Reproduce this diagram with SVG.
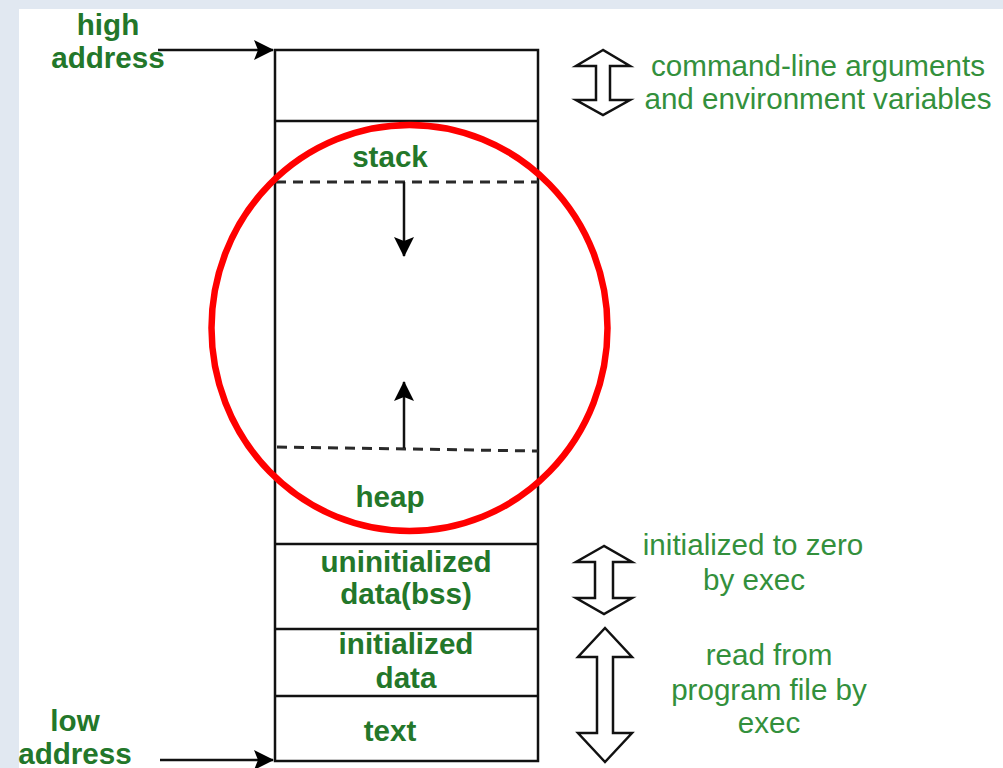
<svg xmlns="http://www.w3.org/2000/svg" width="1003" height="768" viewBox="0 0 1003 768">
<defs>
<marker id="ah2" viewBox="0 0 20 20" refX="19" refY="10" markerWidth="20" markerHeight="20" markerUnits="userSpaceOnUse" orient="auto">
<path d="M0,0 L20,10 L0,20 L4,10 Z" fill="#000"/>
</marker>
<style>
.b{font-family:"Liberation Sans",Arial,sans-serif;font-weight:bold;font-size:29.6px;fill:#23772a;text-anchor:middle}
.r{font-family:"Liberation Sans",Arial,sans-serif;font-size:29.6px;fill:#33903c;text-anchor:middle}
.box{fill:none;stroke:#111;stroke-width:2.5}
.dash{stroke:#2a2a2a;stroke-width:3;stroke-dasharray:10 7;fill:none}
.dbl{fill:#fff;stroke:#111;stroke-width:2.5;stroke-linejoin:miter}
.con{stroke:#111;stroke-width:2.5;fill:none}
</style>
</defs>
<rect x="0" y="0" width="1003" height="768" fill="#e1e8f1"/>
<rect x="19" y="9" width="984" height="759" fill="#fff"/>

<g id="memory">
<rect class="box" x="275" y="50" width="263" height="711"/>
<line class="box" x1="275" y1="121" x2="538" y2="121"/>
<line class="box" x1="275" y1="544" x2="538" y2="544"/>
<line class="box" x1="275" y1="629" x2="538" y2="629"/>
<line class="box" x1="275" y1="696" x2="538" y2="696"/>
</g>

<g id="stack">
<text class="b" x="390" y="167">stack</text>
<line class="dash" x1="276" y1="182" x2="538" y2="182"/>
</g>
<g id="heap">
<text class="b" x="390" y="507">heap</text>
<line class="dash" x1="277" y1="447" x2="538" y2="451"/>
</g>
<g id="bss">
<text class="b" x="406" y="572">uninitialized</text>
<text class="b" x="406" y="604">data(bss)</text>
</g>
<g id="data">
<text class="b" x="406" y="654">initialized</text>
<text class="b" x="406" y="688">data</text>
</g>
<g id="text">
<text class="b" x="390" y="741">text</text>
</g>

<g id="high">
<text class="b" x="108" y="35">high</text>
<text class="b" x="108" y="68">address</text>
</g>
<g id="low">
<text class="b" x="75" y="731">low</text>
<text class="b" x="75" y="764">address</text>
</g>

<g id="connectors">
<line class="con" x1="158" y1="50" x2="273" y2="50" marker-end="url(#ah2)"/>
<line class="con" x1="160" y1="760" x2="273" y2="760" marker-end="url(#ah2)"/>
<line class="con" x1="404" y1="182" x2="404" y2="256" marker-end="url(#ah2)"/>
<line class="con" x1="404" y1="448" x2="404" y2="382" marker-end="url(#ah2)"/>
</g>

<g id="arrow-args">
<polygon class="dbl" points="603,50 576,66 596,66 596,100 576,100 603,115 630,100 610,100 610,66 630,66"/>
<text class="r" x="818" y="76">command-line arguments</text>
<text class="r" x="818" y="109">and environment variables</text>
</g>
<g id="arrow-zero">
<polygon class="dbl" points="604,546 576,562 595,562 595,598 576,598 604,614 632,598 613,598 613,562 632,562"/>
<text class="r" x="753" y="555">initialized to zero</text>
<text class="r" x="754" y="590">by exec</text>
</g>
<g id="arrow-read">
<polygon class="dbl" points="605,628 578,657 597,657 597,733 578,733 605,762 632,733 613,733 613,657 632,657"/>
<text class="r" x="769" y="665">read from</text>
<text class="r" x="769" y="700">program file by</text>
<text class="r" x="769" y="733">exec</text>
</g>

<ellipse id="highlight" cx="409.5" cy="328" rx="198" ry="203" fill="none" stroke="#ff0000" stroke-width="6.5"/>
</svg>
